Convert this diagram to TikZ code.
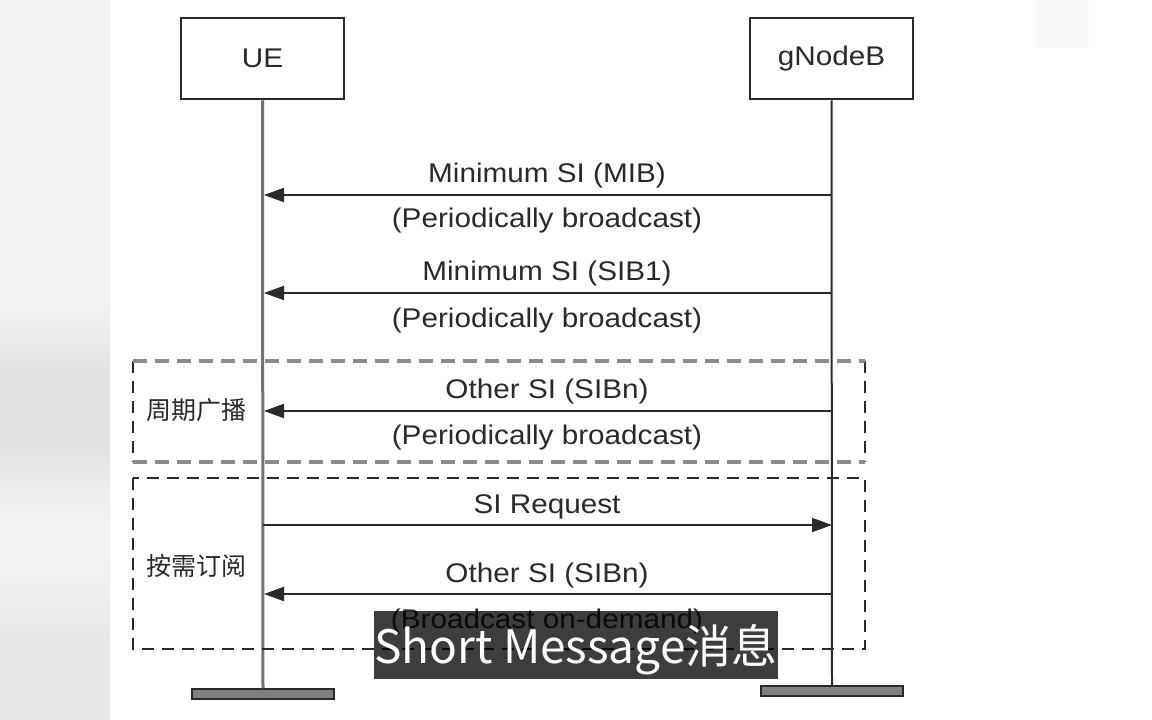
\documentclass[tikz,border=0pt]{standalone}
\usepackage{fontspec}
\setmainfont{Liberation Sans}[FakeStretch=1.1]
\newfontfamily\cjk{Noto Sans CJK SC}
\newfontfamily\subfont{Noto Sans CJK SC}
\usetikzlibrary{arrows.meta}
\definecolor{ink}{HTML}{2A2A2A}
\definecolor{stripA}{HTML}{F3F3F3}
\definecolor{stripB}{HTML}{E0E0E0}
\begin{document}
\begin{tikzpicture}[x=1pt,y=-1pt,
  actor/.style={draw=ink,line width=2.5pt,fill=white,minimum width=163pt,minimum height=81pt,inner sep=0pt,
    font=\fontsize{27}{32}\selectfont,text=ink},
  life/.style={line width=2pt,draw=ink},
  lifeU/.style={line width=3pt,draw=black!55},
  foot/.style={draw=ink,line width=1.5pt,fill=black!50,minimum width=142pt,minimum height=10pt,inner sep=0pt},
  msg/.style={line width=2pt,draw=ink,-{Triangle[length=20pt,width=14pt]}},
  lbl/.style={font=\fontsize{27}{32}\selectfont,text=ink,inner sep=0pt},
  grp/.style={draw=ink,line width=2pt,dash pattern=on 12pt off 8pt},
  grpgray/.style={draw=black!45,line width=3.5pt,dash pattern=on 14pt off 8pt},
  grplbl/.style={font=\cjk\fontsize{25}{30}\selectfont,text=ink,inner sep=0pt},
  subbox/.style={fill=black,fill opacity=0.76,minimum width=404pt,minimum height=68pt,inner sep=0pt},
  subtxt/.style={text=white,inner sep=0pt,font=\subfont\fontsize{46}{50}\selectfont}]
\useasboundingbox (0,0) rectangle (1152,720);
% background
\fill[white] (0,0) rectangle (1152,720);
\fill[stripA] (0,0) rectangle (110,720);
\shade[top color=stripA,bottom color=stripB] (0,300) rectangle (110,380);
\fill[stripB] (0,380) rectangle (110,440);
\shade[top color=stripB,bottom color=stripA] (0,440) rectangle (110,520);
\shade[top color=stripA,bottom color=stripB!80!white] (0,560) rectangle (110,640);
\fill[stripB!80!white] (0,640) rectangle (110,720);
\fill[black!2] (1035,0) rectangle (1095,48);
% actors
\node[actor] (ue) at (262.5,58.5) {UE};
\node[actor] (gnb) at (831.5,58.5) {gNodeB};
\node[foot] (uefoot) at (263,694) {};
\node[foot] (gnbfoot) at (832,691) {};
\draw[lifeU] (ue.south) -- (uefoot.north);
\draw[life] (gnb.south) -- (gnbfoot.north);
% lifeline coordinates
\coordinate (u1) at (264,195); \coordinate (g1) at (832,195);
\coordinate (u2) at (264,293); \coordinate (g2) at (832,293);
\coordinate (u3) at (264,411); \coordinate (g3) at (832,411);
\coordinate (u4) at (263,525); \coordinate (g4) at (832,525);
\coordinate (u5) at (264,594); \coordinate (g5) at (832,594);
% groups
\draw[grp] (133,361) -- (133,462);
\draw[grp] (865,361) -- (865,462);
\draw[grpgray] (133,361) -- (865,361);
\draw[grpgray] (133,462) -- (865,462);
\node[grplbl] (g1lbl) at (196,410) {周期广播};
\draw[grp] (133,478) rectangle (865,649);
\node[grplbl] (g2lbl) at (196,566) {按需订阅};
% messages
\draw[msg] (g1) -- (u1);
\node[lbl] (m1a) at (547,176) {Minimum SI (MIB)};
\node[lbl] (m1b) at (547,221) {(Periodically broadcast)};
\draw[msg] (g2) -- (u2);
\node[lbl] (m2a) at (547,274) {Minimum SI (SIB1)};
\node[lbl] (m2b) at (547,321) {(Periodically broadcast)};
\draw[msg] (g3) -- (u3);
\node[lbl] (m3a) at (547,392) {Other SI (SIBn)};
\node[lbl] (m3b) at (547,438) {(Periodically broadcast)};
\draw[msg] (u4) -- (g4);
\node[lbl] (m4a) at (547,507) {SI Request};
\draw[msg] (g5) -- (u5);
\node[lbl] (m5a) at (547,576) {Other SI (SIBn)};
\node[lbl] (m5b) at (547,622) {(Broadcast on-demand)};
% subtitle
\node[subbox] (sub) at (576,645) {};
\node[subtxt] (subt) at (576,650) {Short Message消息};
\end{tikzpicture}
\end{document}
